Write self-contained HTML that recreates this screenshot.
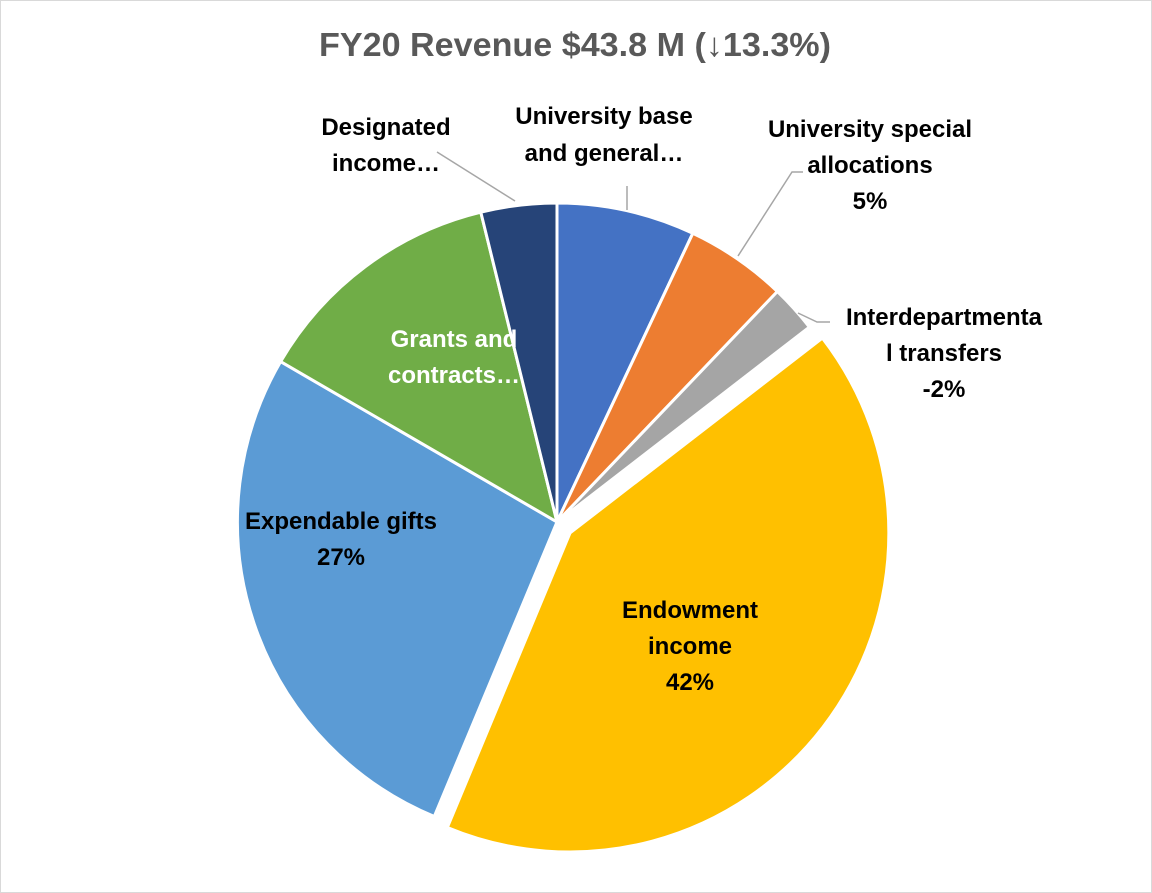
<!DOCTYPE html>
<html><head><meta charset="utf-8"><style>
html,body{margin:0;padding:0;background:#fff;}
svg{display:block;}
text{font-family:"Liberation Sans",Arial,sans-serif;font-weight:bold;}
</style></head><body>
<svg width="1152" height="893" viewBox="0 0 1152 893" xmlns="http://www.w3.org/2000/svg">
<rect x="0.5" y="0.5" width="1151" height="892" fill="#fff" stroke="#d9d9d9"/>
<text x="575" y="56" text-anchor="middle" font-size="33" fill="#595959" textLength="512" lengthAdjust="spacingAndGlyphs">FY20 Revenue $43.8 M (↓13.3%)</text>
<g stroke="#fff" stroke-width="3" stroke-linejoin="round">
<path d="M557,522 L557,203 A319,319 0 0 1 692.8,233.3 Z" fill="#4472C4"/>
<path d="M557,522 L692.8,233.3 A319,319 0 0 1 777.4,291.5 Z" fill="#ED7D31"/>
<path d="M557,522 L777.4,291.5 A319,319 0 0 1 809.4,327.1 Z" fill="#A5A5A5"/>
<path d="M570,533 L822.4,338.1 A319,319 0 0 1 447.3,827.5 Z" fill="#FFC000"/>
<path d="M557,522 L434.3,816.5 A319,319 0 0 1 280.6,361.6 Z" fill="#5B9BD5"/>
<path d="M557,522 L280.6,361.6 A319,319 0 0 1 480.8,212.2 Z" fill="#70AD47"/>
<path d="M557,522 L480.8,212.2 A319,319 0 0 1 557,203 Z" fill="#264478"/>
</g>
<g stroke="#a6a6a6" stroke-width="1.5" fill="none">
<line x1="627" y1="186" x2="627" y2="210"/>
<polyline points="803,172 792,172 738,256"/>
<polyline points="830,322 817,322 798,313"/>
<polyline points="437,152 515,201"/>
</g>
<g font-size="24" fill="#000" text-anchor="middle">
<text x="604" y="124">University base</text>
<text x="604" y="161">and general…</text>
<text x="870" y="137">University special</text>
<text x="870" y="173">allocations</text>
<text x="870" y="209">5%</text>
<text x="944" y="325">Interdepartmenta</text>
<text x="944" y="361">l transfers</text>
<text x="944" y="397">-2%</text>
<text x="386" y="135">Designated</text>
<text x="386" y="171">income…</text>
<text x="454" y="347" fill="#fff">Grants and</text>
<text x="454" y="383" fill="#fff">contracts…</text>
<text x="341" y="529">Expendable gifts</text>
<text x="341" y="565">27%</text>
<text x="690" y="618">Endowment</text>
<text x="690" y="654">income</text>
<text x="690" y="690">42%</text>
</g>
</svg>
</body></html>
